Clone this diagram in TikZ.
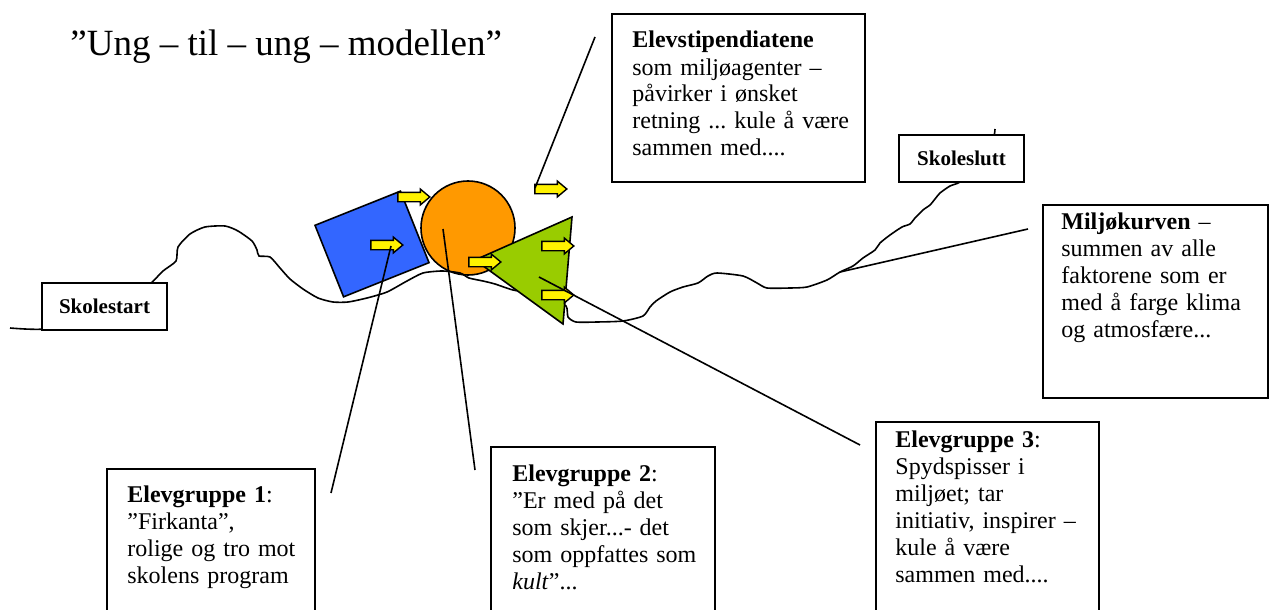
\documentclass[tikz,border=0pt]{standalone}
\usepackage{fontspec}
\setmainfont{Liberation Serif}
\frenchspacing
\usetikzlibrary{fit}
\usetikzlibrary{shapes.arrows}

\definecolor{squareblue}{RGB}{51,102,255}
\definecolor{ballorange}{RGB}{255,153,0}
\definecolor{spikegreen}{RGB}{153,204,0}

\begin{document}
\begin{tikzpicture}[
				x=0.5pt, y=-0.5pt,
				figure/.style={draw, line width=0.8pt},
				box/.style={draw, fill=white, line width=0.9pt, inner sep=0pt},
				tagbox/.style={box, minimum width=62.5pt, minimum height=23.5pt, font=\fontsize{10.5}{12}\selectfont\bfseries},
				boxtext/.style={anchor=base west, inner sep=0pt, text width=130pt, align=left, font=\fontsize{12}{13.5}\selectfont},
				pusher/.style={single arrow, draw, fill=yellow, line width=0.7pt, inner xsep=0pt, inner ysep=2pt, minimum height=16pt, single arrow head extend=1.6pt, single arrow tip angle=80},
				pointer/.style={line width=0.8pt},
			]
				\useasboundingbox (0,0) rectangle (1269,610);
				\clip (0,0) rectangle (1269,610);

				% the three groups
				\node[figure, fill=squareblue, minimum width=46pt, minimum height=38.5pt, rotate=21.8] (square) at (372,244) {};
				\node[figure, circle, fill=ballorange, minimum size=47pt, inner sep=0pt] (ball) at (468,228) {};

				% miljokurven
				\draw[line width=0.8pt] plot[smooth, tension=0.4] coordinates {
					(10,328) (45,329) (110,318) (150,284) (163,271) (176,261) (178,247) (190,234) (205,227) (225,226)
					(238,231) (252,241) (257,250) (259,256) (270,257) (280,268) (290,279) (303,289) (318,298) (333,302)
					(348,302) (367,298) (387,292) (407,281) (423,273) (442,271) (460,273) (469,278) (483,281) (495,284)
					(513,290) (533,293) (550,297) (566,306) (568,317) (576,322) (597,322) (623,321) (643,316) (650,307)
					(656,301) (670,292) (683,287) (698,283) (708,276) (717,273) (743,276) (757,283) (767,288) (790,288)
					(807,287) (827,280) (840,272) (853,266) (863,258) (875,250) (880,243) (890,235) (902,227) (910,224)
					(915,218) (923,210) (930,205) (935,199) (940,193) (950,186) (960,182) (975,168) (988,150) (994,136) (995,129)};

				\coordinate (spike top) at (572,217);
				\coordinate (spike foot) at (563,324);
				\coordinate (spike tip) at (475,260);
				\draw[figure, fill=spikegreen] (spike tip) -- (spike top) -- (spike foot) -- cycle;

				\node[pusher] (push over square) at (411,197) {};
				\node[pusher] (push in square) at (384,245) {};
				\node[pusher] (push ball) at (482,262) {};
				\node[pusher] (push spike upper) at (555,246) {};
				\node[pusher] (push spike lower) at (555,295) {};
				\node[pusher] (push free) at (548,189) {};

				% boxes
				\node[box, fit={(612,14) (865,182)}] (agents) {};
				\node[box, fit={(1043,205) (1268,398)}] (curve box) {};
				\node[box, fit={(107,469) (315,640)}] (group one) {};
				\node[box, fit={(491,447) (715,640)}] (group two) {};
				\node[box, fit={(876,422) (1099,640)}] (group three) {};
				\node[tagbox] (start) at (104.5,306.5) {Skolestart};
				\node[tagbox] (end) at (961.5,158.5) {Skoleslutt};

				% pointers
				\coordinate (agents end) at (595,37);
				\coordinate (agents tip) at (535,188);
				\coordinate (one end) at (331,493);
				\coordinate (one tip) at (391,246);
				\coordinate (two end) at (475,470);
				\coordinate (two tip) at (443,229);
				\coordinate (three end) at (860,445);
				\coordinate (three tip) at (539,277);
				\coordinate (curve end) at (1028,229);
				\coordinate (curve tip) at (840,272);
				\draw[pointer] (agents end) -- (agents tip);
				\draw[pointer] (one end) -- (one tip);
				\draw[pointer] (two end) -- (two tip);
				\draw[pointer] (three end) -- (three tip);
				\draw[pointer] (curve end) -- (curve tip);

				% texts
				\node[anchor=base west, inner sep=0pt, font=\fontsize{18.5}{22}\selectfont] (title) at (70,56) {”Ung – til – ung – modellen”};
				\node[boxtext] (agents text) at (632,48) {\textbf{Elevstipendiatene}\\som miljøagenter –\\påvirker i ønsket\\retning ... kule å være\\sammen med....};
				\node[boxtext] (curve text) at (1061,229) {\textbf{Miljøkurven} –\\summen av alle\\faktorene som er\\med å farge klima\\og atmosfære...};
				\node[boxtext] (one text) at (127,502) {\textbf{Elevgruppe 1}:\\”Firkanta”,\\rolige og tro mot\\skolens program};
				\node[boxtext] (two text) at (512,481) {\textbf{Elevgruppe 2}:\\”Er med på det\\som skjer...- det\\som oppfattes som\\\textit{kult}”...};
				\node[boxtext] (three text) at (895,447) {\textbf{Elevgruppe 3}:\\Spydspisser i\\miljøet; tar\\initiativ, inspirer –\\kule å være\\sammen med....};
			\end{tikzpicture}
\end{document}
